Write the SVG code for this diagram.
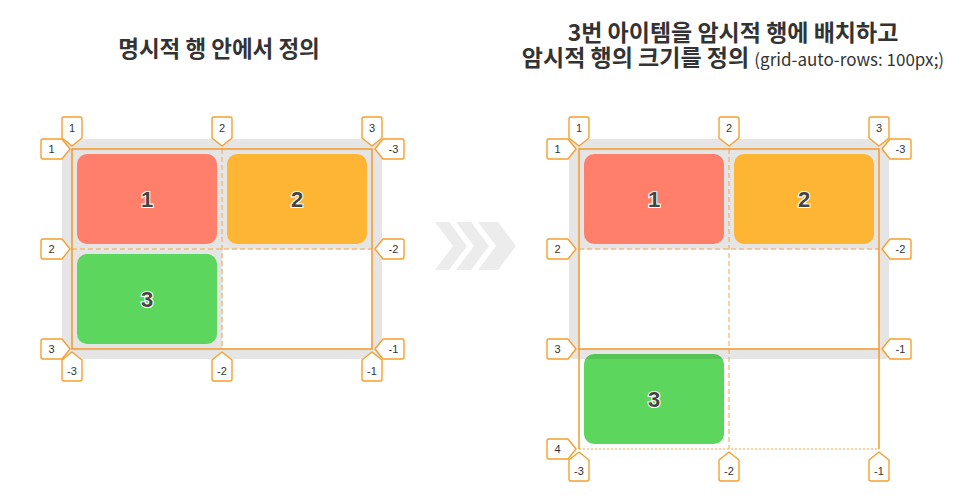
<svg xmlns="http://www.w3.org/2000/svg" xmlns:xlink="http://www.w3.org/1999/xlink" width="980" height="501" viewBox="0 0 980 501">
<style>
.title{font-family:"Noto Sans CJK KR","Noto Sans",sans-serif;font-weight:700;font-size:23px;fill:#333;text-anchor:middle}
.tl{font-size:22.5px}
.sub{font-weight:400;font-size:17px}
.box{fill:#e5e5e5}
.solid{stroke:#f7941d;stroke-width:1.4;fill:none}
.dash{stroke:#f7a541;stroke-width:1;stroke-dasharray:5 3;fill:none}
.dot{stroke:#f7a541;stroke-width:1;stroke-dasharray:2 2;fill:none}
.badge{fill:#fff;stroke:#f5a02e;stroke-width:1.4;stroke-linejoin:round}
.bt{font-family:"Liberation Sans",Arial,sans-serif;font-size:11px;fill:#333;text-anchor:middle}
.num{font-family:"Liberation Sans",Arial,sans-serif;font-weight:700;font-size:22px;fill:#444;stroke:#fff;stroke-width:2.2;paint-order:stroke;text-anchor:middle}
.chev{fill:#ececec}
</style>
<defs>
<path id="badge" d="M0,0 L-10,-8 L-10,-27 Q-10,-29 -8,-29 L8,-29 Q10,-29 10,-27 L10,-8 Z"/>
<clipPath id="c3"><rect x="584" y="354" width="140" height="90" rx="10"/></clipPath>
</defs>

<g id="title-left">
<text class="title tl" x="219" y="57">명시적 행 안에서 정의</text>
</g>
<g id="title-right">
<text class="title" x="733" y="41">3번 아이템을 암시적 행에 배치하고</text>
<text class="title" x="733" y="66">암시적 행의 크기를 정의 <tspan class="sub">(grid-auto-rows: 100px;)</tspan></text>
</g>

<g id="arrow">
<polygon class="chev" points="435,222 449,222 467,246 449,270 435,270 453,246"/>
<polygon class="chev" points="456,222 471,222 489,246 471,270 456,270 474,246"/>
<polygon class="chev" points="478,222 498,222 516,246 498,270 478,270 496,246"/>
</g>

<!-- Left grid -->
<g id="left-container">
<rect class="box" x="62" y="139" width="320" height="220" rx="4"/>
</g>
<g id="left-item1">
<rect x="77" y="154" width="140" height="90" rx="10" fill="#ff7f6b"/>
<text class="num" x="147" y="207">1</text>
</g>
<g id="left-item2">
<rect x="227" y="154" width="140" height="90" rx="10" fill="#ffb534"/>
<text class="num" x="297" y="207">2</text>
</g>
<g id="left-item3">
<rect x="77" y="254" width="140" height="90" rx="10" fill="#5cd65c"/>
<text class="num" x="147" y="307">3</text>
</g>
<g id="left-empty-cell">
<rect x="222.5" y="249.5" width="149" height="99" fill="#fff"/>
</g>
<g id="left-gridlines">
<line class="dash" x1="222" y1="149" x2="222" y2="349"/>
<line class="dash" x1="72" y1="249" x2="372" y2="249"/>
<rect class="solid" x="72" y="149" width="300" height="200"/>
</g>
<g id="left-badges">
<use href="#badge" class="badge" transform="translate(72,146)"/>
<use href="#badge" class="badge" transform="translate(222,146)"/>
<use href="#badge" class="badge" transform="translate(372,146)"/>
<use href="#badge" class="badge" transform="translate(72,352) rotate(180)"/>
<use href="#badge" class="badge" transform="translate(222,352) rotate(180)"/>
<use href="#badge" class="badge" transform="translate(372,352) rotate(180)"/>
<use href="#badge" class="badge" transform="translate(70,149) rotate(-90)"/>
<use href="#badge" class="badge" transform="translate(70,249) rotate(-90)"/>
<use href="#badge" class="badge" transform="translate(70,349) rotate(-90)"/>
<use href="#badge" class="badge" transform="translate(375,149) rotate(90)"/>
<use href="#badge" class="badge" transform="translate(375,249) rotate(90)"/>
<use href="#badge" class="badge" transform="translate(375,349) rotate(90)"/>
<text class="bt" x="72" y="131.5">1</text>
<text class="bt" x="222" y="131.5">2</text>
<text class="bt" x="372" y="131.5">3</text>
<text class="bt" x="72" y="374.5">-3</text>
<text class="bt" x="222" y="374.5">-2</text>
<text class="bt" x="372" y="374.5">-1</text>
<text class="bt" x="51.5" y="153">1</text>
<text class="bt" x="51.5" y="253">2</text>
<text class="bt" x="51.5" y="353">3</text>
<text class="bt" x="393.5" y="153">-3</text>
<text class="bt" x="393.5" y="253">-2</text>
<text class="bt" x="393.5" y="353">-1</text>
</g>

<!-- Right grid -->
<g id="right-container">
<rect class="box" x="569" y="139" width="320" height="220" rx="4"/>
<rect x="579.5" y="249.5" width="299" height="99" fill="#fff"/>
</g>
<g id="right-item1">
<rect x="584" y="154" width="140" height="90" rx="10" fill="#ff7f6b"/>
<text class="num" x="654" y="207">1</text>
</g>
<g id="right-item2">
<rect x="734" y="154" width="140" height="90" rx="10" fill="#ffb534"/>
<text class="num" x="804" y="207">2</text>
</g>
<g id="right-item3">
<rect x="584" y="354" width="140" height="90" rx="10" fill="#5cd65c"/>
<rect x="584" y="354" width="140" height="5" fill="#000" opacity="0.08" clip-path="url(#c3)"/>
<text class="num" x="654" y="407">3</text>
</g>
<g id="right-gridlines">
<line class="dash" x1="729" y1="149" x2="729" y2="449"/>
<line class="dash" x1="579" y1="249" x2="879" y2="249"/>
<line class="dot" x1="579" y1="449" x2="879" y2="449"/>
<rect class="solid" x="579" y="149" width="300" height="200"/>
<line class="solid" x1="579" y1="349" x2="579" y2="449"/>
<line class="solid" x1="879" y1="349" x2="879" y2="449"/>
</g>
<g id="right-badges">
<use href="#badge" class="badge" transform="translate(579,146)"/>
<use href="#badge" class="badge" transform="translate(729,146)"/>
<use href="#badge" class="badge" transform="translate(879,146)"/>
<use href="#badge" class="badge" transform="translate(579,452) rotate(180)"/>
<use href="#badge" class="badge" transform="translate(729,452) rotate(180)"/>
<use href="#badge" class="badge" transform="translate(879,452) rotate(180)"/>
<use href="#badge" class="badge" transform="translate(576,149) rotate(-90)"/>
<use href="#badge" class="badge" transform="translate(576,249) rotate(-90)"/>
<use href="#badge" class="badge" transform="translate(576,349) rotate(-90)"/>
<use href="#badge" class="badge" transform="translate(576,449) rotate(-90)"/>
<use href="#badge" class="badge" transform="translate(882,149) rotate(90)"/>
<use href="#badge" class="badge" transform="translate(882,249) rotate(90)"/>
<use href="#badge" class="badge" transform="translate(882,349) rotate(90)"/>
<text class="bt" x="579" y="131.5">1</text>
<text class="bt" x="729" y="131.5">2</text>
<text class="bt" x="879" y="131.5">3</text>
<text class="bt" x="579" y="474.5">-3</text>
<text class="bt" x="729" y="474.5">-2</text>
<text class="bt" x="879" y="474.5">-1</text>
<text class="bt" x="557.5" y="153">1</text>
<text class="bt" x="557.5" y="253">2</text>
<text class="bt" x="557.5" y="353">3</text>
<text class="bt" x="557.5" y="453">4</text>
<text class="bt" x="900.5" y="153">-3</text>
<text class="bt" x="900.5" y="253">-2</text>
<text class="bt" x="900.5" y="353">-1</text>
</g>
</svg>
